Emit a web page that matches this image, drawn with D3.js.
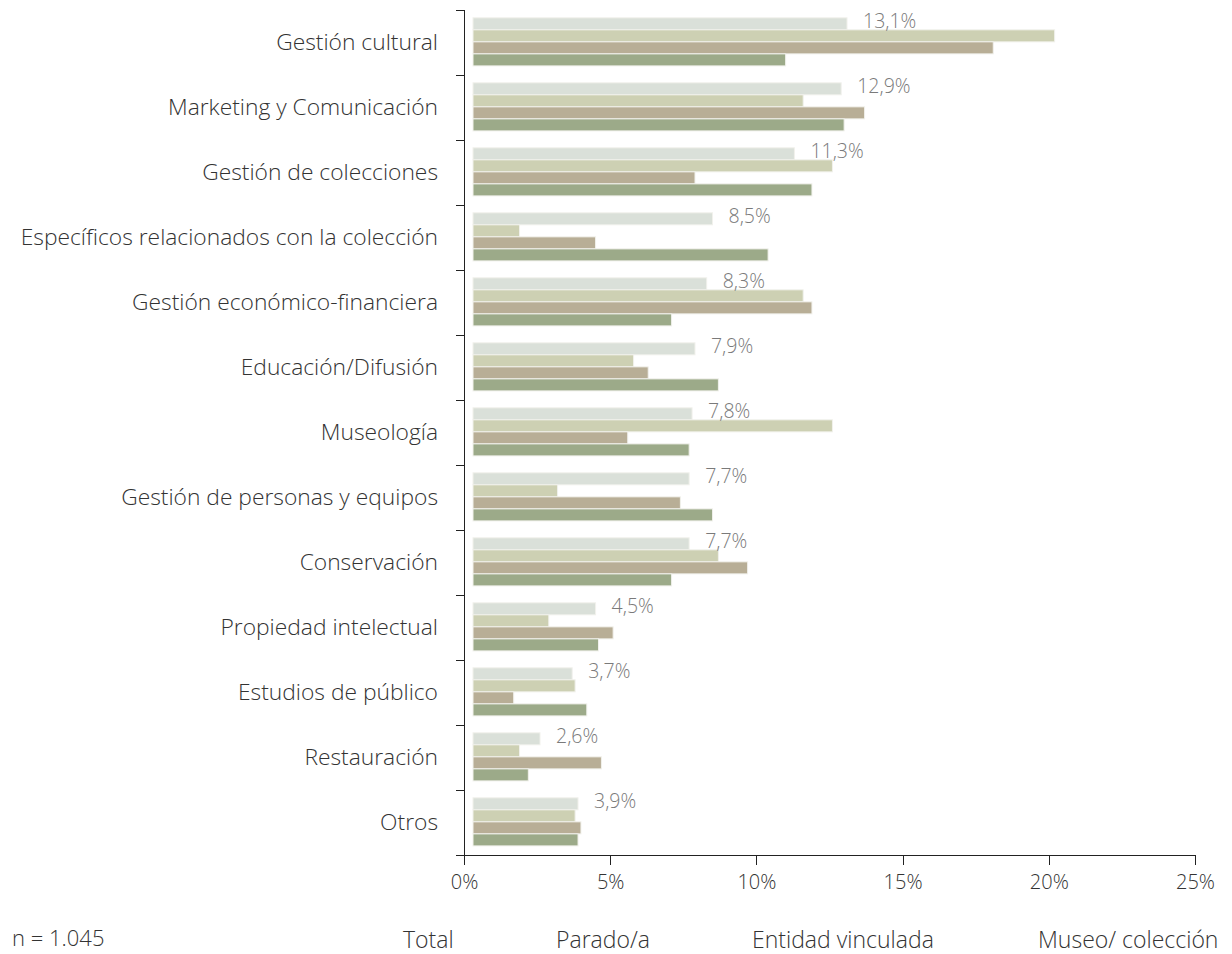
<!DOCTYPE html>
<html>
<head>
<meta charset="utf-8">
<script src="https://cdn.jsdelivr.net/npm/d3@7"></script>
<style>
	body { margin: 0; background: #fff; }
	svg { display: block; font-family: 'Open Sans', Lato, sans-serif; font-weight: 300; }
	.axis path, .axis line { stroke: #222; stroke-width: 1; shape-rendering: crispEdges; }
	.axis text { fill: #333; font-size: 20px; font-family: 'Open Sans', sans-serif; }
	.cat-label { fill: #333; font-size: 22.8px; }
	.value-label { fill: #7a7a7a; font-size: 19.5px; }
	.legend-text { fill: #333; font-size: 23px; }
	.note-text { fill: #333; font-size: 22px; }
</style>
</head>
<body>
<div id="graphic"></div>
<script>
// categories, top to bottom
const categories = [
	'Gestión cultural',
	'Marketing y Comunicación',
	'Gestión de colecciones',
	'Específicos relacionados con la colección',
	'Gestión económico-financiera',
	'Educación/Difusión',
	'Museología',
	'Gestión de personas y equipos',
	'Conservación',
	'Propiedad intelectual',
	'Estudios de público',
	'Restauración',
	'Otros'
];

const seriesNames = ['Total', 'Parado/a', 'Entidad vinculada', 'Museo/ colección'];

// values in %
const total = [13.1, 12.9, 11.3, 8.5, 8.3, 7.9, 7.8, 7.7, 7.7, 4.5, 3.7, 2.6, 3.9];
const parado = [20.2, 11.6, 12.6, 1.9, 11.6, 5.8, 12.6, 3.2, 8.7, 2.9, 3.8, 1.9, 3.8];
const entidad = [18.1, 13.7, 7.9, 4.5, 11.9, 6.3, 5.6, 7.4, 9.7, 5.1, 1.7, 4.7, 4.0];
const museo = [11.0, 13.0, 11.9, 10.4, 7.1, 8.7, 7.7, 8.5, 7.1, 4.6, 4.2, 2.2, 3.9];

const xTicks = [0, 5, 10, 15, 20, 25];
const sampleNote = 'n = 1.045';

const colours = ['#dae0d9', '#cdd0b3', '#b8ae96', '#9caa89'];

const width = 1232, height = 954;
const margin = { top: 10, right: 37, bottom: 99, left: 464 };
const chart_width = width - margin.left - margin.right;
const chart_height = height - margin.top - margin.bottom;

const graphic_data = categories.map((c, i) => ({
	category: c,
	values: [total[i], parado[i], entidad[i], museo[i]]
}));

const svg = d3.select('#graphic')
	.append('svg')
	.attr('width', width)
	.attr('height', height);

const g = svg.append('g')
	.attr('transform', 'translate(' + margin.left + ',' + margin.top + ')');

const x = d3.scaleLinear().domain([0, 25]).range([0, chart_width]);

const y = d3.scaleBand()
	.domain(categories)
	.range([0, chart_height])
	.padding(0);

const y1 = d3.scaleBand()
	.domain(seriesNames)
	.range([y.bandwidth() * 0.12, y.bandwidth() * 0.86])
	.padding(0);

// bars start a little off the axis line, as in the original
const barGap = 9;

const groups = g.selectAll('g.cat')
	.data(graphic_data)
	.join('g')
	.attr('class', 'cat')
	.attr('transform', (d) => 'translate(0,' + y(d.category) + ')');

groups.selectAll('rect')
	.data((d) => d.values.map((v, i) => ({ key: seriesNames[i], value: v, i: i })))
	.join('rect')
	.attr('x', barGap)
	.attr('y', (d) => y1(d.key))
	.attr('width', (d) => Math.max(0, x(d.value) - barGap))
	.attr('height', y1.bandwidth())
	.attr('fill', (d) => colours[d.i])
	.attr('stroke', '#f1f1ec')
	.attr('stroke-width', 1);

// value labels for Total only
groups.append('text')
	.attr('class', 'value-label')
	.attr('x', (d) => x(d.values[0]) + 16)
	.attr('y', y1('Total') + y1.bandwidth() / 2 - 3)
	.attr('dy', '0.35em')
	.text((d) => d3.format('.1f')(d.values[0]).replace('.', ',') + '%');

// x axis
g.append('g')
	.attr('class', 'x axis')
	.attr('transform', 'translate(0,' + chart_height + ')')
	.call(d3.axisBottom(x)
		.tickValues(xTicks)
		.tickSize(10)
		.tickSizeOuter(0)
		.tickPadding(8)
		.tickFormat((d) => d + '%'))
	.selectAll('text')
	.attr('dy', '0.8em');

// y axis: ticks at category boundaries
const boundaries = d3.range(categories.length + 1).map((i) => i * y.step());
const yAxis = g.append('g').attr('class', 'y axis');
yAxis.append('line')
	.attr('x1', 0).attr('x2', 0)
	.attr('y1', 0).attr('y2', chart_height);
yAxis.selectAll('line.tick')
	.data(boundaries)
	.join('line')
	.attr('class', 'tick')
	.attr('x1', -8).attr('x2', 0)
	.attr('y1', (d) => d).attr('y2', (d) => d);

// category labels
g.selectAll('text.cat-label')
	.data(categories)
	.join('text')
	.attr('class', 'cat-label')
	.attr('x', -26)
	.attr('y', (d) => y(d) + y.bandwidth() / 2)
	.attr('dy', '0.35em')
	.attr('text-anchor', 'end')
	.text((d) => d);

// legend (text only)
const legendX = [403, 556, 752, 1038];
svg.selectAll('text.legend-text')
	.data(seriesNames)
	.join('text')
	.attr('class', 'legend-text')
	.attr('x', (d, i) => legendX[i])
	.attr('y', 940)
	.attr('dy', '0.35em')
	.text((d) => d);

svg.append('text')
	.attr('class', 'note-text')
	.attr('x', 12)
	.attr('y', 938)
	.attr('dy', '0.35em')
	.text(sampleNote);
</script>
</body>
</html>
